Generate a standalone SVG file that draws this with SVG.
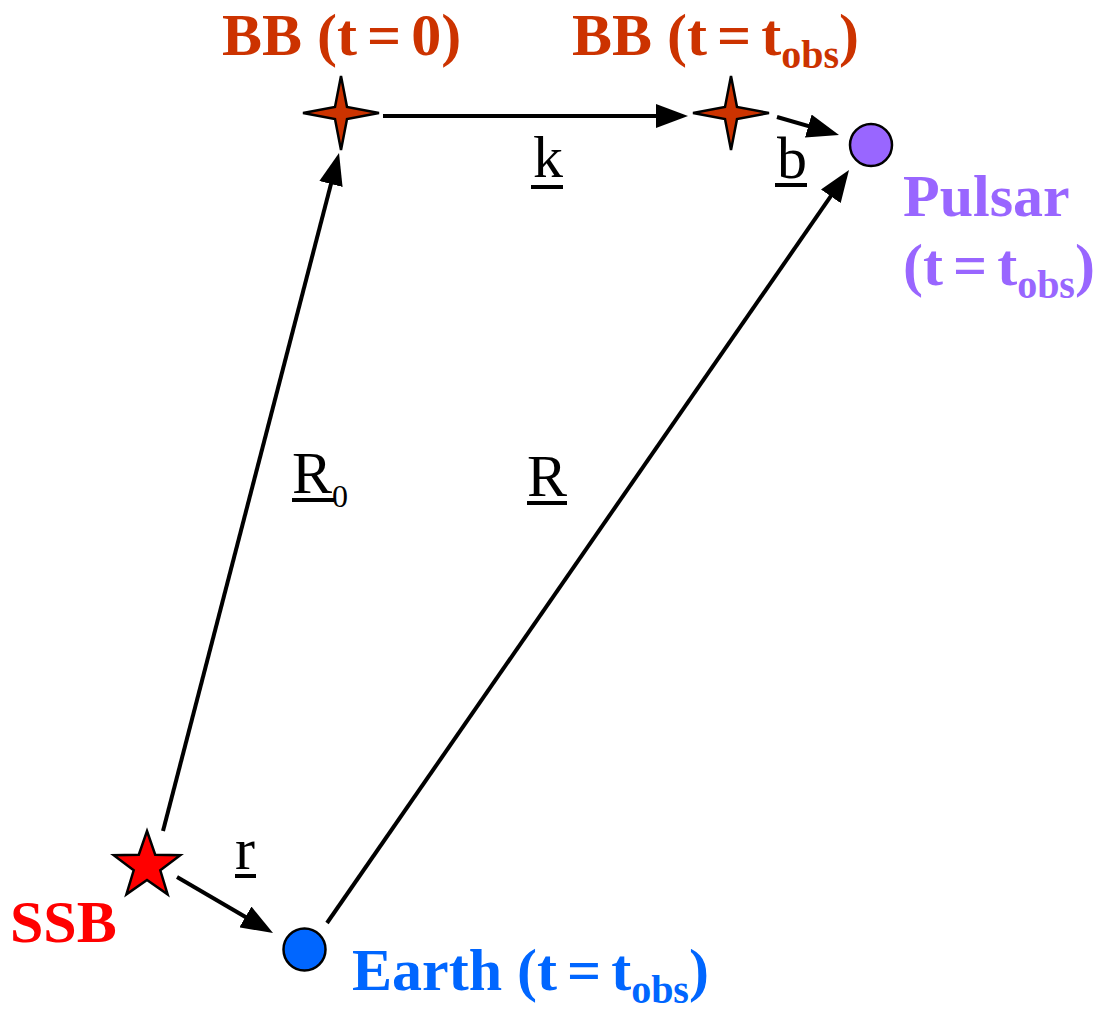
<svg xmlns="http://www.w3.org/2000/svg" width="1098" height="1010" viewBox="0 0 1098 1010">
<style>
.lbl{font-family:"Liberation Serif","Times New Roman",serif;font-weight:bold;font-size:60px}
.vec{font-family:"Liberation Serif","Times New Roman",serif;font-size:60px;fill:#000}
.ul{stroke:#000;stroke-width:4}
.conn{stroke:#000;stroke-width:4;fill:none;marker-end:url(#ah)}
.sub{font-size:40px}
</style>
<defs>
<marker id="ah" markerUnits="userSpaceOnUse" viewBox="0 -12 32 24" refX="22" refY="0" markerWidth="32" markerHeight="24" orient="auto">
<path d="M0,-12 L32,0 L0,12 Z" fill="#000"/>
</marker>
</defs>
<rect width="1098" height="1010" fill="#fff"/>
<g id="connectors">
<line class="conn" x1="383" y1="116" x2="678" y2="116"/>
<line class="conn" x1="777" y1="117" x2="829.4" y2="132.2"/>
<line class="conn" x1="163" y1="831" x2="336.5" y2="162.7"/>
<line class="conn" x1="327" y1="923" x2="843.3" y2="178.2"/>
<line class="conn" x1="177" y1="877" x2="264.4" y2="928"/>
</g>
<g id="ssb">
<polygon points="147,831 155.2,854.7 180.3,855.2 160.3,870.3 167.6,894.3 147,880 126.4,894.3 133.7,870.3 113.7,855.2 138.8,854.7" fill="#ff0000" stroke="#000" stroke-width="2.5" stroke-linejoin="miter"/>
<text class="lbl" x="10" y="942" fill="#ff0000">SSB</text>
</g>
<g id="earth">
<circle cx="304.5" cy="949.5" r="21" fill="#0066ff" stroke="#000" stroke-width="2.5"/>
<text class="lbl" x="352" y="990" fill="#0066ff">Earth (t&#8198;=&#8198;t<tspan class="sub" dy="13">obs</tspan><tspan dy="-13">)</tspan></text>
</g>
<g id="pulsar">
<circle cx="871" cy="145" r="21" fill="#9966ff" stroke="#000" stroke-width="2.5"/>
<text class="lbl" x="903" y="216" fill="#9966ff">Pulsar</text>
<text class="lbl" x="903" y="285" fill="#9966ff">(t&#8198;=&#8198;t<tspan class="sub" dy="13">obs</tspan><tspan dy="-13">)</tspan></text>
</g>
<g id="bb0">
<polygon points="341,76 347,107 379,113 347,119 341,150 335,119 303,113 335,107" fill="#cc3300" stroke="#000" stroke-width="2.5" stroke-linejoin="miter"/>
<text class="lbl" x="222" y="55" fill="#cc3300">BB (t&#8198;=&#8198;0)</text>
</g>
<g id="bbobs">
<polygon points="731,76 737,107 769,113 737,119 731,150 725,119 693,113 725,107" fill="#cc3300" stroke="#000" stroke-width="2.5" stroke-linejoin="miter"/>
<text class="lbl" x="572" y="55" fill="#cc3300">BB (t&#8198;=&#8198;t<tspan class="sub" dy="13">obs</tspan><tspan dy="-13">)</tspan></text>
</g>
<g id="labels">
<text class="vec" x="533" y="177">k</text>
<line class="ul" x1="531" y1="187" x2="563" y2="187"/>
<text class="vec" x="777" y="178">b</text>
<line class="ul" x1="775" y1="185" x2="807" y2="185"/>
<text class="vec" x="292" y="493">R<tspan font-size="32" dy="14">0</tspan></text>
<line class="ul" x1="292" y1="500" x2="334" y2="500"/>
<text class="vec" x="527" y="496">R</text>
<line class="ul" x1="527" y1="503" x2="567" y2="503"/>
<text class="vec" x="235" y="869">r</text>
<line class="ul" x1="235" y1="876" x2="256" y2="876"/>
</g>
</svg>
